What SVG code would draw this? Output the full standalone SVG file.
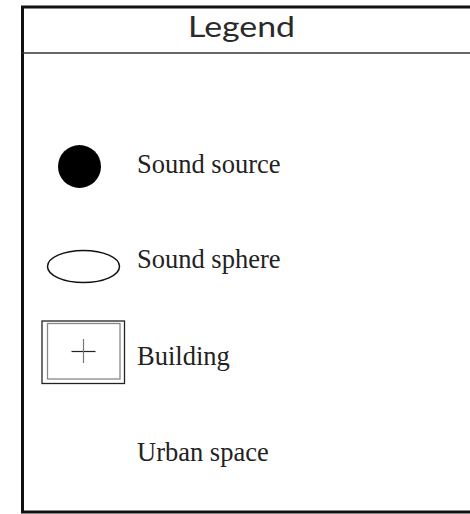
<svg xmlns="http://www.w3.org/2000/svg" width="470" height="514" viewBox="0 0 470 514">
<style>
.lbl{font-family:"Liberation Serif","Times New Roman",serif;font-size:26.5px;fill:#222}
.title{font-family:Lato,"Liberation Sans",sans-serif;font-size:28px;font-weight:400;fill:#2a2a2a}
</style>
<rect width="470" height="514" fill="#fff"/>
<g id="frame">
<rect x="22.5" y="7" width="470" height="505" fill="none" stroke="#111" stroke-width="3"/>
<line x1="22" y1="53" x2="470" y2="53" stroke="#333" stroke-width="1.5"/>
<text class="title" x="241.5" y="37" text-anchor="middle" textLength="107" lengthAdjust="spacingAndGlyphs">Legend</text>
</g>
<g id="sound-source">
<circle cx="79.5" cy="166.5" r="21.5" fill="#000"/>
<text class="lbl" x="137" y="173">Sound source</text>
</g>
<g id="sound-sphere">
<ellipse cx="83.5" cy="266.5" rx="36" ry="16" fill="none" stroke="#111" stroke-width="1.5"/>
<text class="lbl" x="137" y="268">Sound sphere</text>
</g>
<g id="building">
<rect x="42" y="321" width="82.5" height="62.5" fill="none" stroke="#222" stroke-width="1.3"/>
<rect x="47.5" y="323.5" width="72.5" height="55.5" fill="none" stroke="#888" stroke-width="1.3"/>
<line x1="71.5" y1="351.5" x2="95.5" y2="351.5" stroke="#222" stroke-width="1.2"/>
<line x1="83.5" y1="339" x2="83.5" y2="363" stroke="#777" stroke-width="1.2"/>
<text class="lbl" x="137" y="365">Building</text>
</g>
<g id="urban-space">
<text class="lbl" x="137" y="461">Urban space</text>
</g>
<g id="connectors"/>
</svg>
